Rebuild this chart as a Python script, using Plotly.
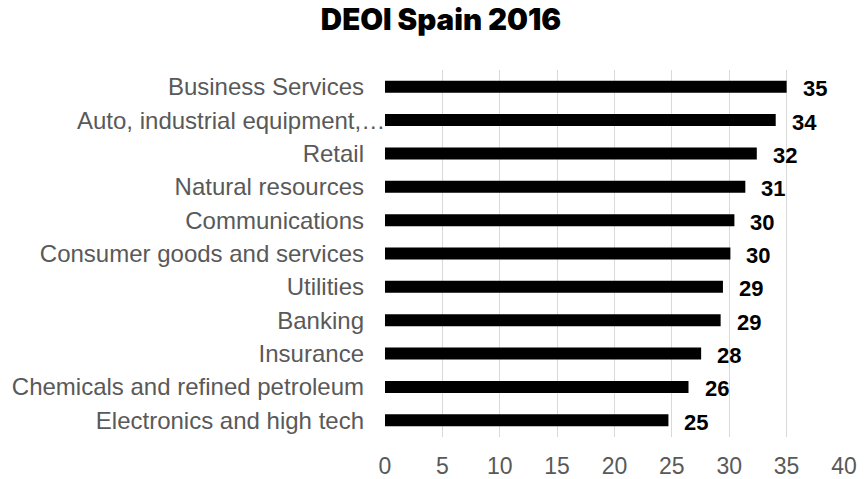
import plotly.graph_objects as go

# Sector scores, top to bottom as listed
sectors = [
    "Business Services",
    "Auto, industrial equipment,…",
    "Retail",
    "Natural resources",
    "Communications",
    "Consumer goods and services",
    "Utilities",
    "Banking",
    "Insurance",
    "Chemicals and refined petroleum",
    "Electronics and high tech",
]
scores = [35.0, 34.05, 32.4, 31.4, 30.45, 30.1, 29.45, 29.25, 27.55, 26.45, 24.7]

x_ticks = [0, 5, 10, 15, 20, 25, 30, 35, 40]

# The truncated category label runs right up to the axis, so it is placed separately
truncated = "Auto, industrial equipment,…"

label_font = dict(family="Liberation Sans, Arial, sans-serif", size=24, color="#595959")

fig = go.Figure()
fig.add_trace(go.Bar(
    x=scores,
    y=sectors,
    orientation="h",
    marker=dict(color="#000000", line=dict(width=0)),
    hoverinfo="x+y",
))

# Value labels just past each bar end
for s, v in zip(sectors, scores):
    fig.add_annotation(
        x=v, y=s, xref="x", yref="y",
        text=f"<b>{v:.0f}</b>",
        showarrow=False,
        xanchor="left", yanchor="middle",
        xshift=14, yshift=-2,
        font=dict(family="Liberation Sans, Arial, sans-serif", size=22, color="#000000"),
    )

fig.add_annotation(
    x=0, y=truncated, xref="paper", yref="y",
    text=truncated,
    showarrow=False,
    xanchor="right", yanchor="middle",
    xshift=2,
    font=label_font,
)

fig.update_layout(
    width=867, height=479,
    margin=dict(l=385, r=23, t=70, b=42, autoexpand=False),
    paper_bgcolor="white",
    plot_bgcolor="white",
    bargap=0.64,
    showlegend=False,
    title=dict(
        text="DEOI Spain 2016",
        x=0.5087, xanchor="center",
        y=0.958, yanchor="middle",
        font=dict(family="Inter, sans-serif", size=29.5, color="#000000", weight=900),
    ),
    xaxis=dict(
        range=[0, 40],
        tickvals=x_ticks,
        showgrid=True,
        gridcolor="#d9d9d9",
        gridwidth=1,
        zeroline=False,
        showline=False,
        ticks="",
        automargin=False,
        tickfont=dict(family="Liberation Sans, Arial, sans-serif", size=23, color="#595959"),
        ticklabelstandoff=13,
    ),
    yaxis=dict(
        categoryorder="array",
        categoryarray=list(reversed(sectors)),
        tickmode="array",
        tickvals=sectors,
        ticktext=["" if s == truncated else s for s in sectors],
        showgrid=False,
        zeroline=False,
        showline=False,
        ticks="",
        automargin=False,
        tickfont=label_font,
        ticklabelstandoff=20,
    ),
)

fig.write_html("out.html")
